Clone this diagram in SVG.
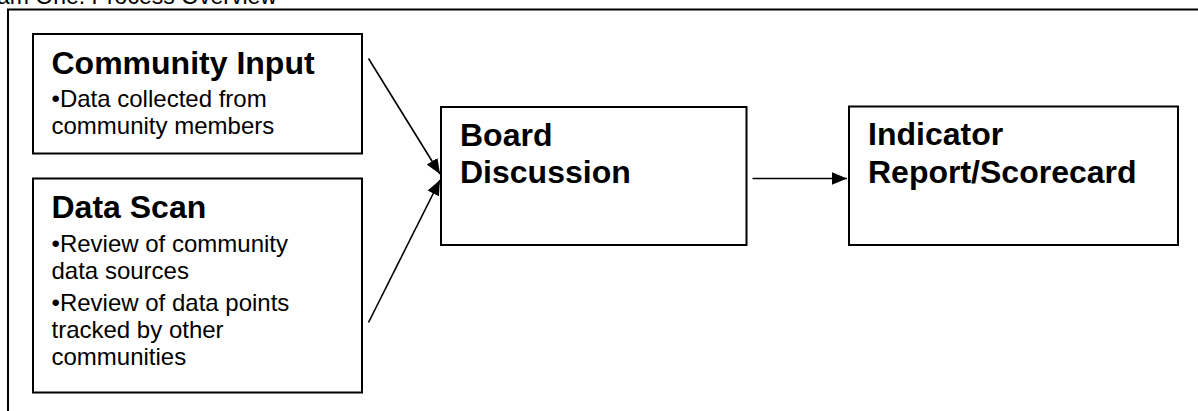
<svg xmlns="http://www.w3.org/2000/svg" width="1198" height="411" viewBox="0 0 1198 411">
<style>
.box{fill:#fff;stroke:#000;stroke-width:2}
.frame{fill:none;stroke:#000;stroke-width:2}
.t{font-family:"Liberation Sans",Arial,sans-serif;font-weight:bold;font-size:32px;fill:#000}
.b{font-family:"Liberation Sans",Arial,sans-serif;font-size:24px;fill:#000}
.cap{font-family:"Liberation Sans",Arial,sans-serif;font-size:23px;fill:#000}
.c{stroke:#000;stroke-width:1.6;fill:none;marker-end:url(#ah)}
</style>
<defs>
<marker id="ah" viewBox="0 0 10 10" refX="10" refY="5" markerWidth="15" markerHeight="15" markerUnits="userSpaceOnUse" orient="auto">
<path d="M0,0.8 L10,5 L0,9.2 z" fill="#000"/>
</marker>
</defs>
<rect width="1198" height="411" fill="#fff"/>
<text class="cap" x="-3" y="4">am One: Process Overview</text>
<path class="frame" d="M8,420 L8,9.5 L1210,9.5"/>
<g id="community-input">
<rect class="box" x="33" y="34" width="329" height="119.5"/>
<text class="t" x="51.5" y="74">Community Input</text>
<text class="b" x="51.5" y="107">•Data collected from</text>
<text class="b" x="51.5" y="134">community members</text>
</g>
<g id="data-scan">
<rect class="box" x="33" y="178.5" width="329" height="214"/>
<text class="t" x="51.5" y="218">Data Scan</text>
<text class="b" x="51.5" y="252">•Review of community</text>
<text class="b" x="51.5" y="278.5">data sources</text>
<text class="b" x="51.5" y="311">•Review of data points</text>
<text class="b" x="51.5" y="338">tracked by other</text>
<text class="b" x="51.5" y="365">communities</text>
</g>
<g id="board-discussion">
<rect class="box" x="441" y="107" width="305.5" height="138"/>
<text class="t" x="460" y="145.5">Board</text>
<text class="t" x="460" y="183">Discussion</text>
</g>
<g id="indicator-report">
<rect class="box" x="849" y="106.5" width="329" height="138.5"/>
<text class="t" x="868" y="145">Indicator</text>
<text class="t" x="868" y="183">Report/Scorecard</text>
</g>
<g id="connectors">
<line class="c" x1="368.5" y1="58.5" x2="440" y2="174"/>
<line class="c" x1="368.5" y1="322.5" x2="440" y2="180"/>
<line class="c" x1="752.5" y1="178.5" x2="847" y2="178.5"/>
</g>
</svg>
